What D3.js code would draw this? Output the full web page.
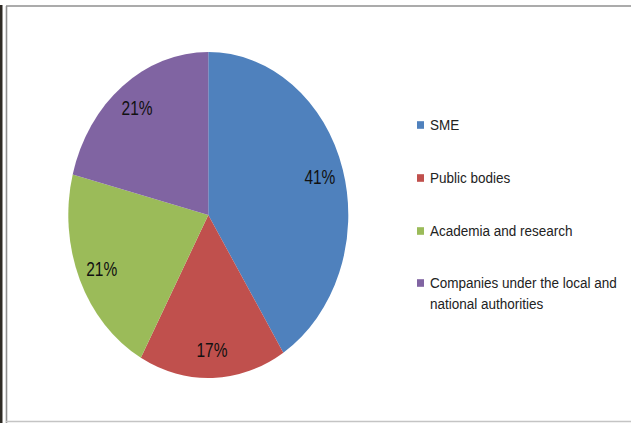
<!DOCTYPE html>
<html><head><meta charset="utf-8">
<script src="https://cdn.jsdelivr.net/npm/d3@7"></script>
<style>body{margin:0;background:#fff;}svg{display:block;}</style>
</head><body>
<script>
const categories = ["SME", "Public bodies", "Academia and research", "Companies under the local and national authorities"];
const legendLines = [["SME"], ["Public bodies"], ["Academia and research"], ["Companies under the local and", "national authorities"]];
const values = [41, 17, 21, 21];
const colors = ["#4F81BD", "#C0504D", "#9BBB59", "#8064A2"];

const W = 631, H = 423;
const svg = d3.select("body").append("svg").attr("width", W).attr("height", H);
const font = "'Liberation Sans', Arial, sans-serif";
const stretch = 163 / 140;

// frame
svg.append("rect").attr("x", 0).attr("y", 5).attr("width", 2.5).attr("height", H - 5).attr("fill", "#2e2a24");
svg.append("line").attr("x1", 6).attr("x2", W).attr("y1", 6).attr("y2", 6).attr("stroke", "#8f8f8f").attr("stroke-width", 1.6);
svg.append("line").attr("x1", 6.5).attr("x2", 6.5).attr("y1", 6).attr("y2", H).attr("stroke", "#8f8f8f").attr("stroke-width", 1.6);
svg.append("line").attr("x1", 6).attr("x2", W).attr("y1", 421.5).attr("y2", 421.5).attr("stroke", "#c4c4c4").attr("stroke-width", 1.4);

// pie
const cx = 208.3, cy = 215, r = 140;
const pie = d3.pie().sort(null).value(d => d)(values);
const arc = d3.arc().innerRadius(0).outerRadius(r);
const gp = svg.append("g").attr("transform", `translate(${cx},${cy}) scale(1,${stretch})`);
gp.selectAll("path").data(pie).join("path")
  .attr("d", arc).attr("fill", (d, i) => colors[i]);

const labelArc = d3.arc().innerRadius(r * 0.83).outerRadius(r * 0.83);
const total = d3.sum(values);
svg.append("g").selectAll("text").data(pie).join("text")
  .attr("transform", d => {
    const [x, y] = labelArc.centroid(d);
    return `translate(${cx + x},${cy + y * stretch}) scale(1,1.25)`;
  })
  .attr("text-anchor", "middle").attr("dy", "0.36em")
  .attr("font-family", font).attr("font-size", 15.5).attr("fill", "#111")
  .text(d => Math.round(d.data / total * 100) + "%");

// legend
const legY = [125, 178, 231, 283];
const lg = svg.append("g");
legendLines.forEach((lines, i) => {
  lg.append("rect").attr("x", 417).attr("y", legY[i] - 3.8).attr("width", 7).attr("height", 7.6).attr("fill", colors[i]);
  lines.forEach((t, j) => {
    lg.append("text")
      .attr("transform", `translate(430,${legY[i] + j * 21}) scale(1,1.05)`)
      .attr("dy", "0.36em")
      .attr("font-family", font).attr("font-size", 13.5).attr("fill", "#222")
      .text(t);
  });
});
</script>
</body></html>
